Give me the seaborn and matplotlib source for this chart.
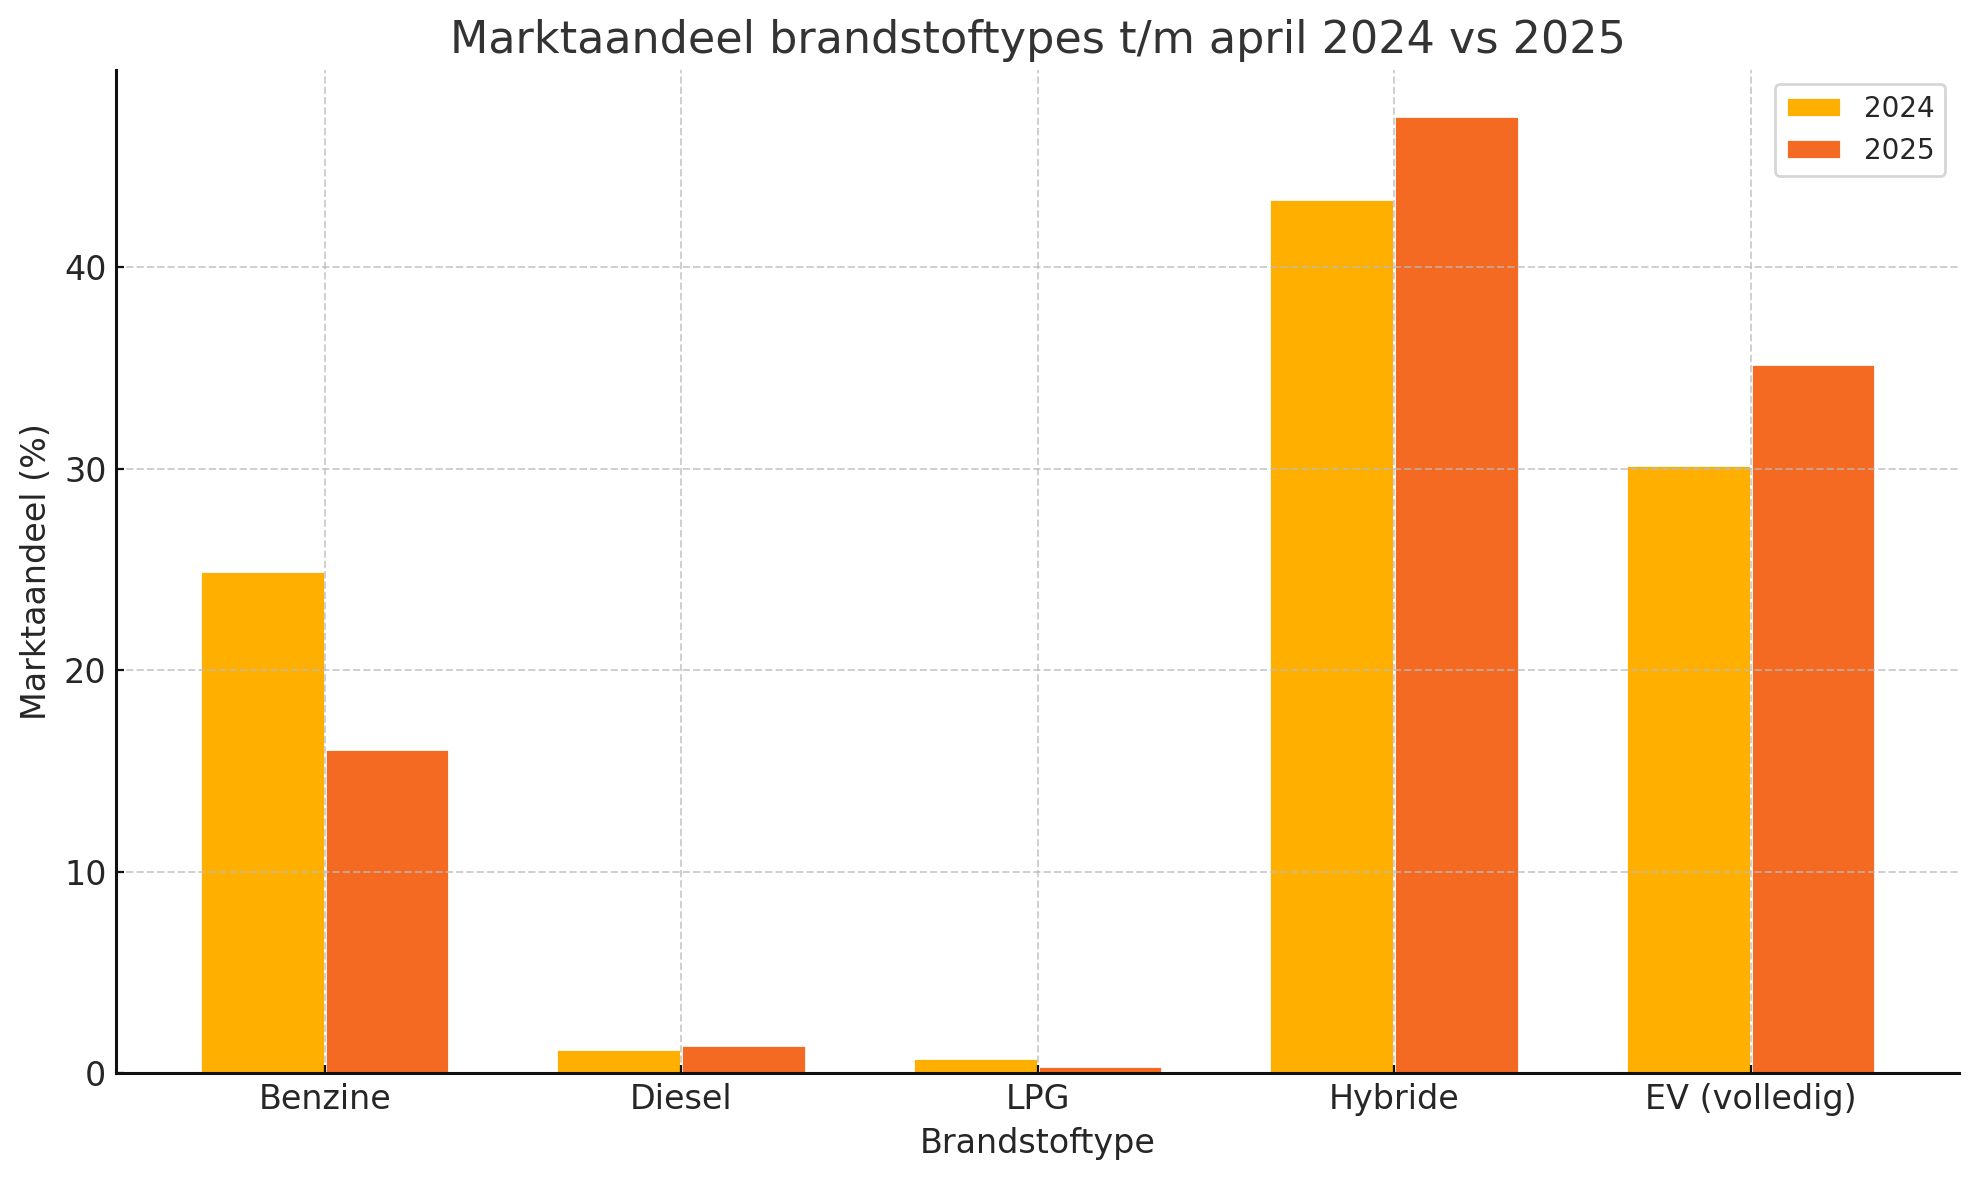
import pandas as pd
import matplotlib.pyplot as plt
import seaborn as sns

# data
brandstof = ["Benzine", "Diesel", "LPG", "Hybride", "EV (volledig)"]
aandeel_2024 = [24.9, 1.2, 0.75, 43.4, 30.2]
aandeel_2025 = [16.1, 1.4, 0.35, 47.5, 35.2]
jaren = ["2024", "2025"]

df = pd.DataFrame({
    "Brandstoftype": brandstof * 2,
    "Marktaandeel": aandeel_2024 + aandeel_2025,
    "Jaar": [jaren[0]] * len(brandstof) + [jaren[1]] * len(brandstof),
})

sns.set_style("white")
plt.rcParams["font.family"] = ["DejaVu Sans"]

fig, ax = plt.subplots(figsize=(9.895, 5.9), dpi=200)
fig.subplots_adjust(left=0.0587, right=0.990, bottom=0.0905, top=0.941)

sns.barplot(data=df, x="Brandstoftype", y="Marktaandeel", hue="Jaar",
            palette=["#FFAF00", "#F46A22"], width=0.7, saturation=1,
            ax=ax)

ax.set_xlim(-0.585, 4.585)
ax.set_ylim(0, 49.8)
ax.set_yticks([0, 10, 20, 30, 40])

# grid on top of the bars, like the reference
ax.set_axisbelow(False)
ax.grid(True, linestyle="--", color="#bbbbbb", linewidth=0.7, alpha=0.7)

sns.despine(ax=ax)
for s in ["left", "bottom"]:
    ax.spines[s].set_color("#111111")
    ax.spines[s].set_linewidth(1.1)
    ax.spines[s].set_zorder(4)
ax.tick_params(axis="both", which="both", direction="in", length=3,
               color="#111111", labelsize=12, left=True, bottom=True)

ax.set_title("Marktaandeel brandstoftypes t/m april 2024 vs 2025", fontsize=16, color="#333333")
ax.set_xlabel("Brandstoftype", fontsize=12)
ax.set_ylabel("Marktaandeel (%)", fontsize=12)
ax.legend(title=None, loc="upper right", fontsize=10)

fig.savefig("out.png", dpi=200)
